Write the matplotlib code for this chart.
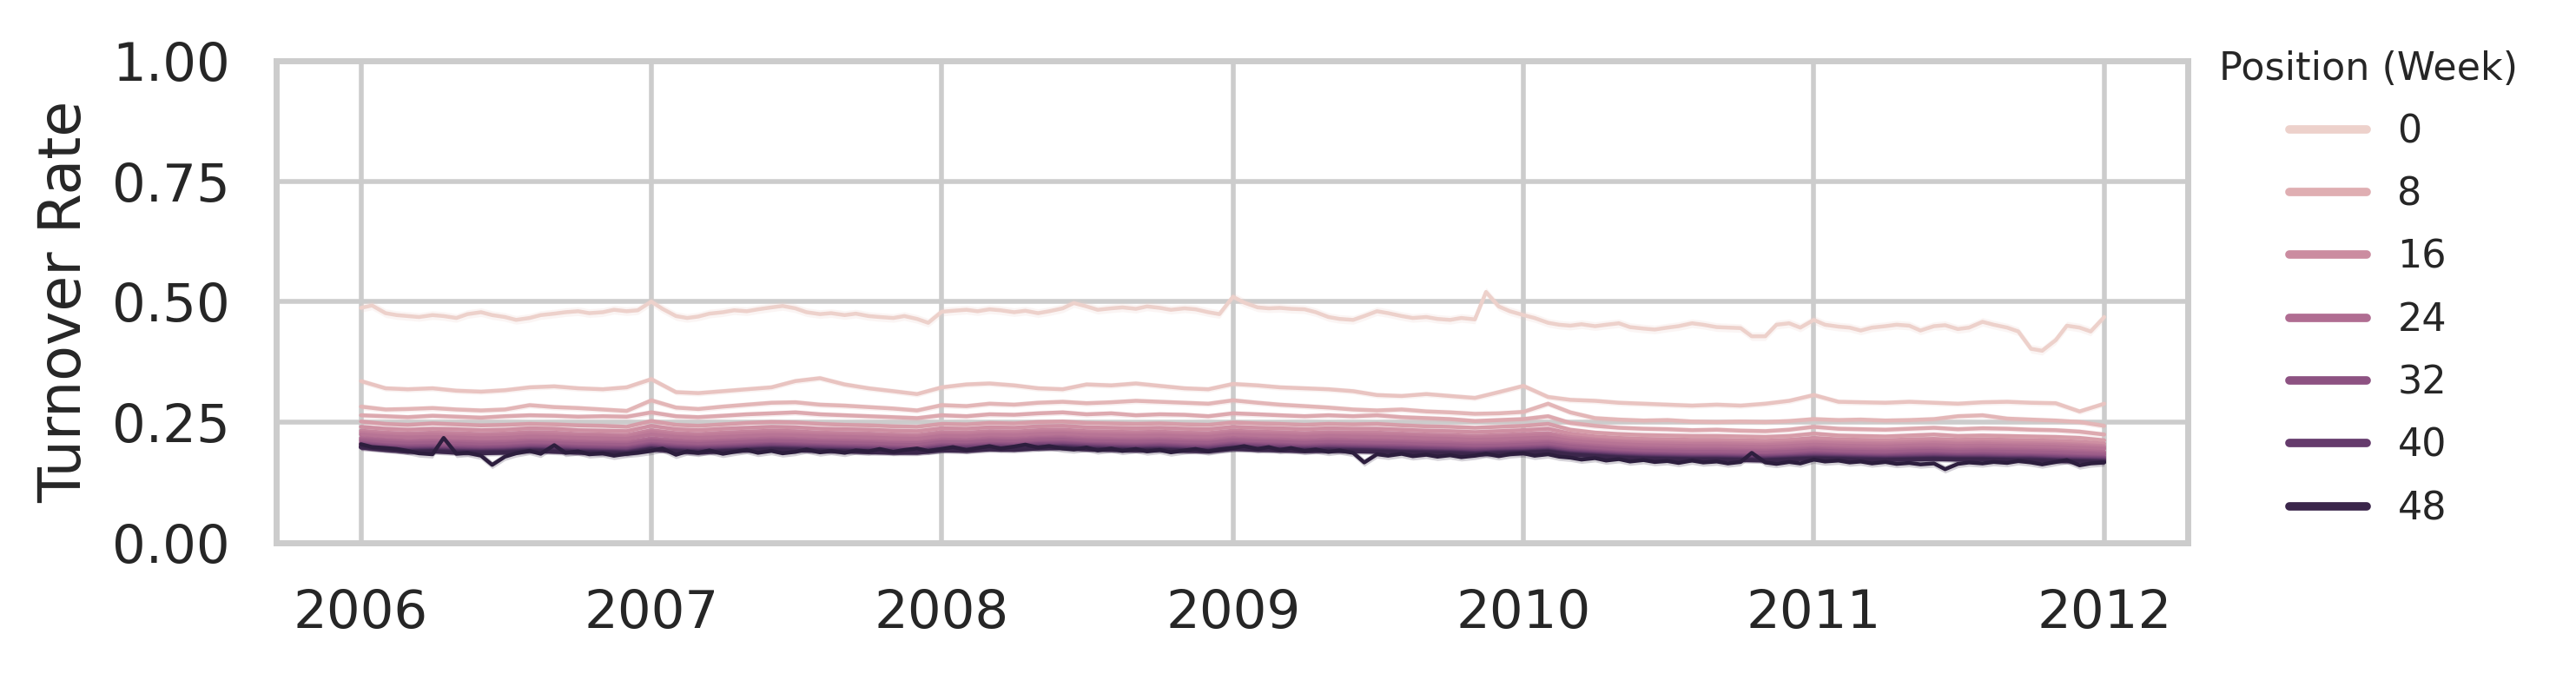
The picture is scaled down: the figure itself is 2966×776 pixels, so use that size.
import numpy as np
import pandas as pd
import matplotlib
matplotlib.use('Agg')
import matplotlib.pyplot as plt
import matplotlib.dates as mdates
from matplotlib.colors import Normalize
from matplotlib.lines import Line2D
import seaborn as sns

sns.set_theme(style='whitegrid')

# turnover rate x1000
# top and bottom line: twice a month (1st / 15th), 2006-01 .. 2012-01
pos0_semi = [
    487, 492, 476, 472, 470, 468, 472, 470, 466, 474, 478, 472, 468, 462, 466, 472, 475, 478, 480, 476, 478, 483, 480, 482,
    500, 485, 470, 466, 469, 475, 478, 482, 480, 484, 488, 491, 486, 478, 474, 476, 472, 475, 470, 468, 466, 470, 464, 456,
    479, 481, 483, 480, 484, 482, 478, 481, 476, 480, 486, 497, 490, 483, 486, 488, 485, 490, 487, 483, 486, 484, 478, 474,
    510, 498, 488, 486, 487, 485, 484, 478, 468, 464, 462, 470, 480, 476, 470, 466, 468, 464, 462, 466, 463, 520, 490, 480,
    472, 466, 456, 452, 450, 453, 449, 452, 455, 447, 444, 442, 446, 449, 455, 452, 447, 446, 445, 428, 428, 452, 455, 446,
    462, 452, 448, 446, 440, 446, 449, 452, 450, 440, 449, 451, 443, 446, 458, 452, 446, 438, 402, 398, 420, 450, 446, 438,
    468,
]
pos51_semi = [
    204, 198, 196, 194, 190, 185, 183, 217, 184, 186, 180, 161, 178, 185, 190, 184, 202, 186, 189, 183, 185, 180, 184, 186,
    190, 195, 182, 189, 186, 191, 184, 188, 192, 186, 190, 185, 188, 193, 187, 190, 186, 191, 189, 194, 188, 192, 195, 190,
    194, 198, 192, 196, 200, 195, 199, 203, 197, 200, 195, 193, 197, 191, 195, 190, 194, 189, 192, 187, 191, 194, 189, 193,
    196, 200, 194, 198, 192, 196, 190, 193, 188, 191, 186, 166, 183, 180, 184, 179, 182, 178, 181, 177, 180, 184, 179, 183,
    185, 180, 183, 178, 176, 172, 175, 170, 173, 168, 171, 167, 169, 165, 170, 166, 168, 164, 167, 186, 166, 163, 167, 164,
    172, 168, 170, 166, 168, 164, 167, 163, 165, 162, 164, 152, 163, 166, 164, 167, 165, 169, 166, 162, 167, 171, 160, 164,
    166,
]

# the other positions: monthly, 2006-01 .. 2012-01
monthly_values = {
    3: [335, 320, 318, 320, 315, 313, 316, 322, 324, 320, 318, 322,
        339, 312, 310, 314, 318, 322, 335, 341, 328, 320, 314, 308,
        322, 328, 330, 326, 320, 318, 328, 326, 330, 325, 320, 318,
        329, 326, 322, 320, 318, 314, 306, 304, 308, 304, 300, 312,
        325, 302, 296, 294, 290, 288, 286, 284, 286, 284, 288, 294,
        306, 292, 291, 290, 292, 290, 288, 291, 292, 290, 289, 272, 288],
    6: [282, 276, 277, 279, 276, 274, 276, 285, 281, 279, 276, 273,
        295, 280, 277, 282, 286, 290, 291, 286, 284, 281, 278, 274,
        285, 283, 288, 286, 290, 292, 289, 291, 294, 292, 290, 288,
        295, 290, 286, 283, 280, 276, 274, 276, 272, 270, 267, 268,
        271, 288, 270, 258, 255, 253, 254, 251, 250, 251, 250, 252,
        256, 254, 255, 253, 254, 256, 262, 264, 257, 255, 253, 250, 242],
    9: [264, 262, 260, 263, 261, 259, 262, 264, 263, 261, 262, 261,
        270, 262, 260, 263, 266, 268, 270, 266, 264, 262, 260, 258,
        264, 262, 266, 265, 268, 270, 266, 268, 264, 266, 265, 262,
        268, 266, 264, 262, 264, 262, 264, 260, 258, 256, 252, 254,
        256, 262, 248, 242, 238, 236, 235, 233, 234, 232, 231, 234,
        240, 236, 235, 234, 236, 238, 235, 237, 236, 234, 233, 230, 224],
    12: [251, 246, 244, 247, 245, 243, 244, 246, 245, 243, 242, 240,
         252, 244, 242, 245, 248, 250, 249, 246, 244, 243, 241, 240,
         246, 245, 248, 247, 250, 251, 248, 247, 246, 247, 245, 244,
         249, 247, 246, 244, 246, 245, 246, 243, 241, 240, 238, 240,
         242, 246, 234, 228, 225, 223, 222, 221, 221, 220, 219, 221,
         226, 222, 221, 220, 222, 224, 221, 222, 221, 220, 219, 217, 212],
    15: [240, 236, 234, 236, 235, 233, 234, 237, 236, 233, 232, 231,
         242, 235, 233, 236, 238, 240, 239, 236, 235, 234, 232, 231,
         237, 236, 239, 238, 241, 242, 239, 238, 237, 238, 236, 235,
         240, 238, 237, 235, 237, 236, 236, 234, 232, 231, 229, 231,
         233, 236, 226, 220, 217, 215, 214, 213, 213, 212, 211, 213,
         217, 214, 213, 212, 214, 215, 213, 214, 213, 212, 211, 209, 205],
    18: [232, 228, 226, 228, 227, 225, 226, 229, 228, 225, 224, 223,
         233, 227, 225, 228, 230, 232, 231, 228, 227, 226, 224, 223,
         229, 228, 231, 230, 233, 234, 231, 230, 229, 230, 228, 227,
         232, 230, 229, 227, 229, 228, 228, 226, 224, 223, 221, 223,
         225, 227, 219, 214, 211, 209, 208, 207, 207, 206, 205, 207,
         210, 208, 207, 206, 208, 209, 207, 208, 207, 206, 205, 203, 200],
    20: [228, 224, 223, 224, 222, 221, 222, 225, 223, 221, 221, 219,
         229, 223, 221, 224, 226, 227, 226, 224, 223, 222, 220, 219,
         225, 224, 227, 226, 229, 229, 227, 226, 225, 226, 224, 223,
         228, 226, 225, 223, 225, 224, 223, 222, 220, 219, 217, 219,
         221, 223, 215, 211, 208, 206, 205, 204, 204, 203, 202, 204,
         207, 205, 204, 203, 204, 206, 204, 205, 203, 203, 202, 200, 197],
    22: [224, 220, 218, 219, 218, 216, 217, 220, 219, 217, 216, 215,
         224, 219, 217, 219, 221, 223, 222, 220, 219, 218, 216, 215,
         221, 220, 223, 222, 225, 226, 223, 222, 221, 222, 220, 219,
         224, 222, 221, 219, 221, 220, 219, 218, 216, 215, 213, 214,
         216, 218, 211, 207, 204, 202, 201, 200, 200, 199, 198, 200,
         203, 201, 200, 199, 201, 202, 200, 201, 200, 199, 198, 196, 194],
    24: [217, 213, 211, 212, 211, 209, 210, 213, 212, 210, 209, 208,
         216, 212, 210, 212, 214, 216, 215, 213, 212, 211, 209, 208,
         214, 213, 216, 215, 218, 219, 216, 215, 214, 215, 213, 212,
         217, 215, 214, 212, 214, 213, 212, 211, 209, 208, 206, 207,
         209, 211, 205, 201, 198, 196, 195, 194, 194, 193, 192, 194,
         197, 195, 194, 193, 195, 196, 194, 195, 194, 193, 192, 190, 188],
    26: [214, 211, 208, 210, 208, 207, 207, 210, 209, 207, 206, 205,
         213, 209, 207, 209, 211, 213, 212, 210, 209, 208, 206, 206,
         211, 210, 213, 212, 215, 216, 213, 212, 211, 212, 210, 209,
         214, 212, 211, 209, 211, 210, 209, 208, 206, 205, 203, 204,
         206, 208, 202, 198, 195, 193, 192, 191, 191, 190, 189, 191,
         194, 192, 191, 190, 192, 193, 191, 192, 191, 190, 189, 187, 185],
    28: [211, 207, 205, 206, 205, 203, 204, 207, 206, 204, 203, 202,
         210, 206, 204, 206, 208, 210, 209, 207, 206, 205, 203, 202,
         208, 207, 210, 209, 212, 213, 210, 209, 208, 209, 207, 206,
         211, 209, 208, 206, 208, 207, 206, 205, 203, 202, 200, 201,
         203, 205, 199, 195, 192, 190, 189, 188, 188, 187, 186, 188,
         191, 189, 188, 187, 189, 190, 188, 189, 188, 187, 186, 184, 182],
    30: [207, 202, 200, 201, 200, 198, 199, 202, 201, 199, 198, 197,
         205, 201, 199, 201, 203, 205, 204, 202, 201, 200, 198, 197,
         203, 202, 205, 204, 207, 208, 205, 204, 203, 204, 202, 201,
         206, 204, 203, 201, 203, 202, 201, 200, 198, 197, 195, 196,
         198, 200, 194, 190, 187, 185, 184, 183, 183, 182, 181, 183,
         186, 184, 183, 182, 184, 185, 183, 184, 183, 182, 181, 179, 178],
    32: [205, 200, 198, 199, 197, 196, 197, 200, 199, 197, 196, 195,
         203, 199, 197, 199, 201, 203, 202, 200, 199, 198, 196, 195,
         201, 200, 203, 202, 205, 206, 203, 202, 201, 202, 200, 199,
         204, 202, 201, 199, 201, 200, 199, 198, 196, 195, 193, 194,
         196, 198, 192, 188, 185, 183, 182, 181, 181, 180, 179, 181,
         184, 182, 181, 180, 182, 183, 181, 182, 181, 180, 179, 177, 176],
    34: [203, 199, 196, 197, 195, 194, 195, 198, 198, 195, 194, 194,
         201, 197, 196, 197, 199, 202, 200, 199, 197, 196, 195, 193,
         199, 199, 201, 200, 204, 204, 202, 200, 199, 201, 198, 197,
         202, 201, 199, 198, 199, 198, 197, 196, 195, 193, 192, 193,
         194, 196, 190, 187, 184, 182, 181, 180, 179, 179, 178, 179,
         182, 181, 179, 179, 180, 181, 180, 180, 179, 179, 177, 176, 175],
    36: [201, 197, 195, 195, 194, 192, 193, 196, 196, 193, 192, 192,
         200, 196, 194, 196, 198, 200, 198, 197, 196, 195, 193, 192,
         198, 197, 200, 199, 202, 202, 200, 199, 198, 199, 197, 196,
         201, 199, 198, 196, 198, 197, 196, 195, 193, 192, 190, 192,
         193, 195, 189, 185, 182, 180, 179, 178, 178, 177, 176, 178,
         181, 179, 178, 177, 179, 180, 178, 179, 177, 177, 176, 174, 173],
    38: [200, 196, 193, 194, 192, 191, 192, 195, 194, 192, 191, 190,
         198, 194, 193, 194, 196, 198, 197, 196, 194, 193, 192, 191,
         196, 196, 198, 197, 200, 201, 199, 197, 196, 197, 195, 194,
         199, 198, 196, 195, 196, 195, 194, 193, 191, 190, 189, 190,
         191, 193, 187, 184, 181, 179, 178, 177, 177, 176, 175, 177,
         179, 178, 177, 176, 177, 178, 177, 177, 176, 176, 174, 173, 172],
    40: [199, 195, 192, 193, 191, 190, 191, 194, 193, 191, 190, 189,
         197, 193, 191, 193, 195, 197, 196, 194, 193, 192, 191, 190,
         195, 194, 197, 196, 199, 200, 198, 196, 195, 196, 194, 193,
         198, 196, 195, 194, 195, 194, 193, 191, 190, 189, 187, 189,
         190, 192, 186, 183, 180, 178, 177, 176, 176, 175, 174, 176,
         178, 177, 176, 175, 176, 177, 176, 176, 175, 175, 173, 172, 171],
    42: [198, 194, 191, 192, 190, 189, 190, 193, 192, 190, 189, 188,
         196, 192, 190, 192, 194, 196, 195, 193, 192, 191, 189, 189,
         194, 193, 196, 195, 198, 199, 196, 195, 194, 195, 193, 192,
         197, 195, 194, 193, 194, 193, 192, 190, 189, 188, 186, 188,
         189, 191, 185, 182, 179, 177, 176, 175, 175, 174, 173, 175,
         177, 176, 175, 174, 175, 176, 175, 175, 174, 174, 172, 171, 170],
    44: [197, 193, 190, 191, 189, 188, 189, 192, 191, 189, 188, 187,
         195, 191, 189, 191, 193, 195, 194, 192, 191, 190, 188, 188,
         193, 192, 195, 194, 197, 198, 195, 194, 193, 194, 192, 191,
         196, 194, 193, 192, 193, 192, 191, 189, 188, 187, 185, 187,
         188, 190, 184, 181, 178, 176, 175, 174, 174, 173, 172, 174,
         176, 175, 174, 173, 174, 175, 174, 174, 173, 173, 171, 170, 169],
    46: [197, 192, 189, 190, 188, 187, 188, 191, 190, 188, 187, 186,
         194, 190, 188, 190, 192, 194, 193, 191, 190, 189, 188, 187,
         192, 191, 194, 193, 196, 197, 194, 193, 192, 193, 191, 190,
         195, 193, 192, 191, 192, 191, 190, 188, 187, 186, 184, 186,
         187, 189, 183, 180, 177, 175, 174, 173, 173, 172, 171, 173,
         175, 174, 173, 172, 173, 174, 173, 173, 172, 172, 170, 169, 168],
    48: [199, 193, 188, 189, 186, 185, 186, 190, 188, 186, 185, 184,
         193, 189, 186, 189, 191, 193, 191, 190, 189, 187, 186, 186,
         191, 190, 193, 192, 195, 196, 193, 192, 191, 192, 190, 189,
         194, 192, 191, 189, 190, 189, 188, 187, 185, 184, 182, 184,
         186, 188, 182, 179, 176, 174, 173, 172, 172, 171, 170, 172,
         174, 173, 171, 171, 172, 173, 172, 172, 171, 170, 169, 168, 167],
}
# half width of the confidence band (x1000)
ci_top, ci_mid, ci_bottom = 9, 6, 8
legend_levels = [0, 8, 16, 24, 32, 40, 48]
max_pos = 51

semi_dates = pd.date_range('2006-01-01', periods=145, freq='SMS')
month_dates = pd.date_range('2006-01-01', periods=73, freq='MS')

series = {0: (semi_dates, np.array(pos0_semi) / 1000, ci_top)}
for p, vals in monthly_values.items():
    series[p] = (month_dates, np.array(vals) / 1000, ci_mid)
series[max_pos] = (semi_dates, np.array(pos51_semi) / 1000, ci_bottom)

cmap = sns.cubehelix_palette(as_cmap=True)
norm = Normalize(0, max_pos)

fig = plt.figure(figsize=(7.415, 1.94), dpi=400)
ax = fig.add_axes([0.10705, 0.19523, 0.74225, 0.71456])

for p in sorted(series):
    d, v, ci = series[p]
    c = cmap(norm(p))
    ax.fill_between(d, v - ci / 1000, v + ci / 1000, color=c, alpha=0.2, linewidth=0)
    ax.plot(d, v, color=c, lw=0.8)

ax.set_ylim(0, 1)
ax.set_yticks([0, 0.25, 0.5, 0.75, 1.0])
ax.set_xlim(pd.Timestamp('2005-09-16'), pd.Timestamp('2012-04-15'))
ax.xaxis.set_major_locator(mdates.YearLocator())
ax.xaxis.set_major_formatter(mdates.DateFormatter('%Y'))
ax.set_ylabel('Turnover Rate')
ax.set_xlabel('')

handles = [Line2D([0], [0], color=cmap(norm(p)), lw=1.75, solid_capstyle='round')
           for p in legend_levels]
ax.legend(handles, [str(p) for p in legend_levels], title='Position (Week)',
          loc='upper left', bbox_to_anchor=(0.998, 1.094), frameon=False,
          fontsize=8, title_fontsize=8, labelspacing=0.66)

fig.savefig('out.png', dpi=400)
